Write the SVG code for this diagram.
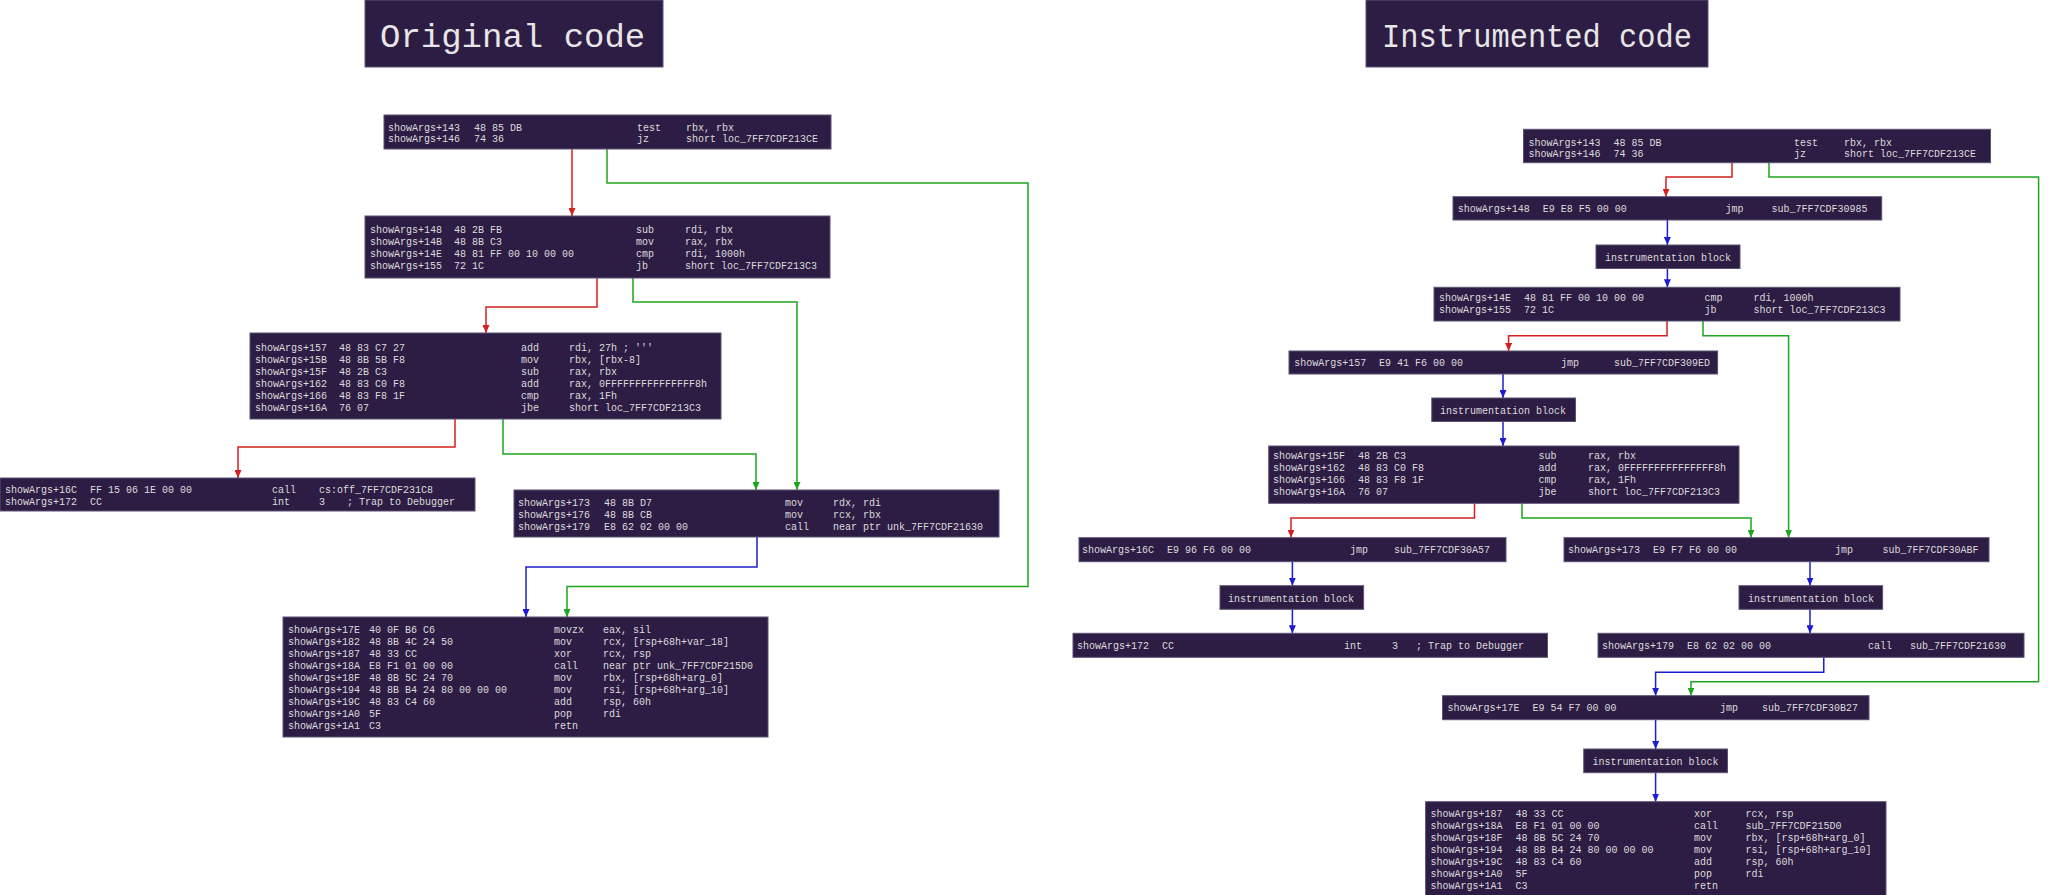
<svg xmlns="http://www.w3.org/2000/svg" width="2048" height="895" viewBox="0 0 2048 895">
<style>
.b{fill:#2d1c44;stroke:#5b5273;stroke-width:1}
.t{font-family:"Liberation Mono","Courier New",monospace;font-size:10px;fill:#dcdcdc}
.h{font-family:"Liberation Mono","Courier New",monospace;font-size:34px;fill:#e6e6e6}
.r{fill:none;stroke:#d42020;stroke-width:1.5}
.g{fill:none;stroke:#1fa51f;stroke-width:1.5}
.u{fill:none;stroke:#1c1cd2;stroke-width:1.5}
</style>
<defs>
<marker id="mr" viewBox="0 0 10 10" refX="10" refY="5" markerWidth="8" markerHeight="7" markerUnits="userSpaceOnUse" orient="auto" preserveAspectRatio="none"><path d="M0,0L10,5L0,10z" fill="#d42020"/></marker>
<marker id="mg" viewBox="0 0 10 10" refX="10" refY="5" markerWidth="8" markerHeight="7" markerUnits="userSpaceOnUse" orient="auto" preserveAspectRatio="none"><path d="M0,0L10,5L0,10z" fill="#1fa51f"/></marker>
<marker id="mu" viewBox="0 0 10 10" refX="10" refY="5" markerWidth="8" markerHeight="7" markerUnits="userSpaceOnUse" orient="auto" preserveAspectRatio="none"><path d="M0,0L10,5L0,10z" fill="#1c1cd2"/></marker>
</defs>
<rect width="2048" height="895" fill="#ffffff"/>

<g id="title-original"><rect class="b" x="365" y="0" width="298" height="67"/><text class="h" x="380" y="47">Original code</text></g>
<g id="title-instrumented"><rect class="b" x="1366" y="0" width="342" height="67"/><text class="h" x="1382" y="47" textLength="310" lengthAdjust="spacingAndGlyphs">Instrumented code</text></g>

<g id="connectors">
<path class="r" d="M572,149V216" marker-end="url(#mr)"/>
<path class="g" d="M607,149V183H1028V586.5H567V617" marker-end="url(#mg)"/>
<path class="r" d="M597,278V307H486V333" marker-end="url(#mr)"/>
<path class="g" d="M633,278V302H797V490" marker-end="url(#mg)"/>
<path class="r" d="M455,419V447H238V478" marker-end="url(#mr)"/>
<path class="g" d="M503,419V454H756V490" marker-end="url(#mg)"/>
<path class="u" d="M757,537V567H526V617" marker-end="url(#mu)"/>

<path class="r" d="M1732,162.7V177H1666V196.7" marker-end="url(#mr)"/>
<path class="g" d="M1769,162.7V177H2038.6V681.7H1691V695.7" marker-end="url(#mg)"/>
<path class="u" d="M1667.4,220V245" marker-end="url(#mu)"/>
<path class="u" d="M1667.4,268.5V287.3" marker-end="url(#mu)"/>
<path class="r" d="M1667,321V335.7H1508.6V351" marker-end="url(#mr)"/>
<path class="g" d="M1703,321V335.7H1788.6V537.7" marker-end="url(#mg)"/>
<path class="u" d="M1503,374V398" marker-end="url(#mu)"/>
<path class="u" d="M1503,421.5V446" marker-end="url(#mu)"/>
<path class="r" d="M1474.5,503.3V518H1291V537.7" marker-end="url(#mr)"/>
<path class="g" d="M1522,503.3V518H1751V537.7" marker-end="url(#mg)"/>
<path class="u" d="M1292.4,561.7V585.7" marker-end="url(#mu)"/>
<path class="u" d="M1292.4,609.3V633.3" marker-end="url(#mu)"/>
<path class="u" d="M1810,561.7V585.7" marker-end="url(#mu)"/>
<path class="u" d="M1810,609.3V633.3" marker-end="url(#mu)"/>
<path class="u" d="M1823.75,657.3V672.3H1655.6V695.7" marker-end="url(#mu)"/>
<path class="u" d="M1655.6,719.7V749" marker-end="url(#mu)"/>
<path class="u" d="M1655.6,772.7V801.7" marker-end="url(#mu)"/>
</g>

<g id="o143">
<rect class="b" x="384" y="115" width="447" height="34"/>
<text class="t" x="388" y="130.7">showArgs+143<tspan x="474">48 85 DB</tspan><tspan x="637">test</tspan><tspan x="686">rbx, rbx</tspan></text>
<text class="t" x="388" y="142.3">showArgs+146<tspan x="474">74 36</tspan><tspan x="637">jz</tspan><tspan x="686">short loc_7FF7CDF213CE</tspan></text>
</g>
<g id="o148">
<rect class="b" x="365" y="216" width="465" height="62"/>
<text class="t" x="370" y="233.3">showArgs+148<tspan x="454">48 2B FB</tspan><tspan x="636">sub</tspan><tspan x="685">rdi, rbx</tspan></text>
<text class="t" x="370" y="245.3">showArgs+14B<tspan x="454">48 8B C3</tspan><tspan x="636">mov</tspan><tspan x="685">rax, rbx</tspan></text>
<text class="t" x="370" y="257.3">showArgs+14E<tspan x="454">48 81 FF 00 10 00 00</tspan><tspan x="636">cmp</tspan><tspan x="685">rdi, 1000h</tspan></text>
<text class="t" x="370" y="269.3">showArgs+155<tspan x="454">72 1C</tspan><tspan x="636">jb</tspan><tspan x="685">short loc_7FF7CDF213C3</tspan></text>
</g>
<g id="o157">
<rect class="b" x="250" y="333" width="471" height="86"/>
<text class="t" x="255" y="351">showArgs+157<tspan x="339">48 83 C7 27</tspan><tspan x="521">add</tspan><tspan x="569">rdi, 27h ; '''</tspan></text>
<text class="t" x="255" y="363">showArgs+15B<tspan x="339">48 8B 5B F8</tspan><tspan x="521">mov</tspan><tspan x="569">rbx, [rbx-8]</tspan></text>
<text class="t" x="255" y="375">showArgs+15F<tspan x="339">48 2B C3</tspan><tspan x="521">sub</tspan><tspan x="569">rax, rbx</tspan></text>
<text class="t" x="255" y="387">showArgs+162<tspan x="339">48 83 C0 F8</tspan><tspan x="521">add</tspan><tspan x="569">rax, 0FFFFFFFFFFFFFFF8h</tspan></text>
<text class="t" x="255" y="399">showArgs+166<tspan x="339">48 83 F8 1F</tspan><tspan x="521">cmp</tspan><tspan x="569">rax, 1Fh</tspan></text>
<text class="t" x="255" y="411">showArgs+16A<tspan x="339">76 07</tspan><tspan x="521">jbe</tspan><tspan x="569">short loc_7FF7CDF213C3</tspan></text>
</g>
<g id="o16C">
<rect class="b" x="0" y="478" width="475" height="33"/>
<text class="t" x="5" y="493">showArgs+16C<tspan x="90">FF 15 06 1E 00 00</tspan><tspan x="272">call</tspan><tspan x="319">cs:off_7FF7CDF231C8</tspan></text>
<text class="t" x="5" y="505">showArgs+172<tspan x="90">CC</tspan><tspan x="272">int</tspan><tspan x="319">3</tspan><tspan x="347">; Trap to Debugger</tspan></text>
</g>
<g id="o173">
<rect class="b" x="514" y="490" width="485" height="47"/>
<text class="t" x="518" y="506">showArgs+173<tspan x="604">48 8B D7</tspan><tspan x="785">mov</tspan><tspan x="833">rdx, rdi</tspan></text>
<text class="t" x="518" y="518">showArgs+176<tspan x="604">48 8B CB</tspan><tspan x="785">mov</tspan><tspan x="833">rcx, rbx</tspan></text>
<text class="t" x="518" y="530">showArgs+179<tspan x="604">E8 62 02 00 00</tspan><tspan x="785">call</tspan><tspan x="833">near ptr unk_7FF7CDF21630</tspan></text>
</g>
<g id="o17E">
<rect class="b" x="283" y="617" width="485" height="120"/>
<text class="t" x="288" y="633.3">showArgs+17E<tspan x="369">40 0F B6 C6</tspan><tspan x="554">movzx</tspan><tspan x="603">eax, sil</tspan></text>
<text class="t" x="288" y="645.3">showArgs+182<tspan x="369">48 8B 4C 24 50</tspan><tspan x="554">mov</tspan><tspan x="603">rcx, [rsp+68h+var_18]</tspan></text>
<text class="t" x="288" y="657.3">showArgs+187<tspan x="369">48 33 CC</tspan><tspan x="554">xor</tspan><tspan x="603">rcx, rsp</tspan></text>
<text class="t" x="288" y="669.3">showArgs+18A<tspan x="369">E8 F1 01 00 00</tspan><tspan x="554">call</tspan><tspan x="603">near ptr unk_7FF7CDF215D0</tspan></text>
<text class="t" x="288" y="681.3">showArgs+18F<tspan x="369">48 8B 5C 24 70</tspan><tspan x="554">mov</tspan><tspan x="603">rbx, [rsp+68h+arg_0]</tspan></text>
<text class="t" x="288" y="693.3">showArgs+194<tspan x="369">48 8B B4 24 80 00 00 00</tspan><tspan x="554">mov</tspan><tspan x="603">rsi, [rsp+68h+arg_10]</tspan></text>
<text class="t" x="288" y="705.3">showArgs+19C<tspan x="369">48 83 C4 60</tspan><tspan x="554">add</tspan><tspan x="603">rsp, 60h</tspan></text>
<text class="t" x="288" y="717.3">showArgs+1A0<tspan x="369">5F</tspan><tspan x="554">pop</tspan><tspan x="603">rdi</tspan></text>
<text class="t" x="288" y="729.3">showArgs+1A1<tspan x="369">C3</tspan><tspan x="554">retn</tspan></text>
</g>

<g id="i143">
<rect class="b" x="1523.5" y="129.3" width="467" height="33.4"/>
<text class="t" x="1528.5" y="145.5">showArgs+143<tspan x="1613.5">48 85 DB</tspan><tspan x="1794">test</tspan><tspan x="1844">rbx, rbx</tspan></text>
<text class="t" x="1528.5" y="157">showArgs+146<tspan x="1613.5">74 36</tspan><tspan x="1794">jz</tspan><tspan x="1844">short loc_7FF7CDF213CE</tspan></text>
</g>
<g id="i148">
<rect class="b" x="1453" y="196.7" width="428.7" height="23.3"/>
<text class="t" x="1457.7" y="212">showArgs+148<tspan x="1542.7">E9 E8 F5 00 00</tspan><tspan x="1725.5">jmp</tspan><tspan x="1771.5">sub_7FF7CDF30985</tspan></text>
</g>
<g id="ib1">
<rect class="b" x="1596" y="245" width="144" height="23.5"/>
<text class="t" x="1605" y="260.5">instrumentation block</text>
</g>
<g id="i14E">
<rect class="b" x="1434" y="287.3" width="466" height="33.7"/>
<text class="t" x="1439" y="301">showArgs+14E<tspan x="1524">48 81 FF 00 10 00 00</tspan><tspan x="1704.5">cmp</tspan><tspan x="1753.5">rdi, 1000h</tspan></text>
<text class="t" x="1439" y="313">showArgs+155<tspan x="1524">72 1C</tspan><tspan x="1704.5">jb</tspan><tspan x="1753.5">short loc_7FF7CDF213C3</tspan></text>
</g>
<g id="i157">
<rect class="b" x="1289" y="351" width="428.6" height="23"/>
<text class="t" x="1294.3" y="366">showArgs+157<tspan x="1379">E9 41 F6 00 00</tspan><tspan x="1561">jmp</tspan><tspan x="1614">sub_7FF7CDF309ED</tspan></text>
</g>
<g id="ib2">
<rect class="b" x="1431.8" y="398" width="143.7" height="23.5"/>
<text class="t" x="1440" y="413.5">instrumentation block</text>
</g>
<g id="i15F">
<rect class="b" x="1268.7" y="446" width="470.3" height="57.3"/>
<text class="t" x="1273" y="459">showArgs+15F<tspan x="1358">48 2B C3</tspan><tspan x="1538.6">sub</tspan><tspan x="1588">rax, rbx</tspan></text>
<text class="t" x="1273" y="471">showArgs+162<tspan x="1358">48 83 C0 F8</tspan><tspan x="1538.6">add</tspan><tspan x="1588">rax, 0FFFFFFFFFFFFFFF8h</tspan></text>
<text class="t" x="1273" y="483">showArgs+166<tspan x="1358">48 83 F8 1F</tspan><tspan x="1538.6">cmp</tspan><tspan x="1588">rax, 1Fh</tspan></text>
<text class="t" x="1273" y="495">showArgs+16A<tspan x="1358">76 07</tspan><tspan x="1538.6">jbe</tspan><tspan x="1588">short loc_7FF7CDF213C3</tspan></text>
</g>
<g id="i16C">
<rect class="b" x="1079" y="537.7" width="427" height="24"/>
<text class="t" x="1082" y="553">showArgs+16C<tspan x="1167">E9 96 F6 00 00</tspan><tspan x="1350">jmp</tspan><tspan x="1394">sub_7FF7CDF30A57</tspan></text>
</g>
<g id="i173">
<rect class="b" x="1564" y="537.7" width="425" height="24"/>
<text class="t" x="1568" y="553">showArgs+173<tspan x="1653">E9 F7 F6 00 00</tspan><tspan x="1835">jmp</tspan><tspan x="1882.6">sub_7FF7CDF30ABF</tspan></text>
</g>
<g id="ib3">
<rect class="b" x="1220" y="585.7" width="143.6" height="23.6"/>
<text class="t" x="1228" y="601.5">instrumentation block</text>
</g>
<g id="ib4">
<rect class="b" x="1739" y="585.7" width="143.6" height="23.6"/>
<text class="t" x="1748" y="601.5">instrumentation block</text>
</g>
<g id="i172">
<rect class="b" x="1073" y="633.3" width="474.5" height="24"/>
<text class="t" x="1077" y="649">showArgs+172<tspan x="1162">CC</tspan><tspan x="1344">int</tspan><tspan x="1392">3</tspan><tspan x="1416">; Trap to Debugger</tspan></text>
</g>
<g id="i179">
<rect class="b" x="1598" y="633.3" width="426" height="24"/>
<text class="t" x="1602" y="649">showArgs+179<tspan x="1687">E8 62 02 00 00</tspan><tspan x="1868">call</tspan><tspan x="1910">sub_7FF7CDF21630</tspan></text>
</g>
<g id="i17E">
<rect class="b" x="1442.5" y="695.7" width="426.5" height="24"/>
<text class="t" x="1447.5" y="711">showArgs+17E<tspan x="1532.5">E9 54 F7 00 00</tspan><tspan x="1720">jmp</tspan><tspan x="1762">sub_7FF7CDF30B27</tspan></text>
</g>
<g id="ib5">
<rect class="b" x="1583.75" y="749" width="143.75" height="23.7"/>
<text class="t" x="1592.5" y="764.5">instrumentation block</text>
</g>
<g id="i187">
<rect class="b" x="1425.6" y="801.7" width="460.4" height="100"/>
<text class="t" x="1430.6" y="816.7">showArgs+187<tspan x="1515.6">48 33 CC</tspan><tspan x="1694">xor</tspan><tspan x="1745.6">rcx, rsp</tspan></text>
<text class="t" x="1430.6" y="828.7">showArgs+18A<tspan x="1515.6">E8 F1 01 00 00</tspan><tspan x="1694">call</tspan><tspan x="1745.6">sub_7FF7CDF215D0</tspan></text>
<text class="t" x="1430.6" y="840.7">showArgs+18F<tspan x="1515.6">48 8B 5C 24 70</tspan><tspan x="1694">mov</tspan><tspan x="1745.6">rbx, [rsp+68h+arg_0]</tspan></text>
<text class="t" x="1430.6" y="852.7">showArgs+194<tspan x="1515.6">48 8B B4 24 80 00 00 00</tspan><tspan x="1694">mov</tspan><tspan x="1745.6">rsi, [rsp+68h+arg_10]</tspan></text>
<text class="t" x="1430.6" y="864.7">showArgs+19C<tspan x="1515.6">48 83 C4 60</tspan><tspan x="1694">add</tspan><tspan x="1745.6">rsp, 60h</tspan></text>
<text class="t" x="1430.6" y="876.7">showArgs+1A0<tspan x="1515.6">5F</tspan><tspan x="1694">pop</tspan><tspan x="1745.6">rdi</tspan></text>
<text class="t" x="1430.6" y="888.7">showArgs+1A1<tspan x="1515.6">C3</tspan><tspan x="1694">retn</tspan></text>
</g>
</svg>
